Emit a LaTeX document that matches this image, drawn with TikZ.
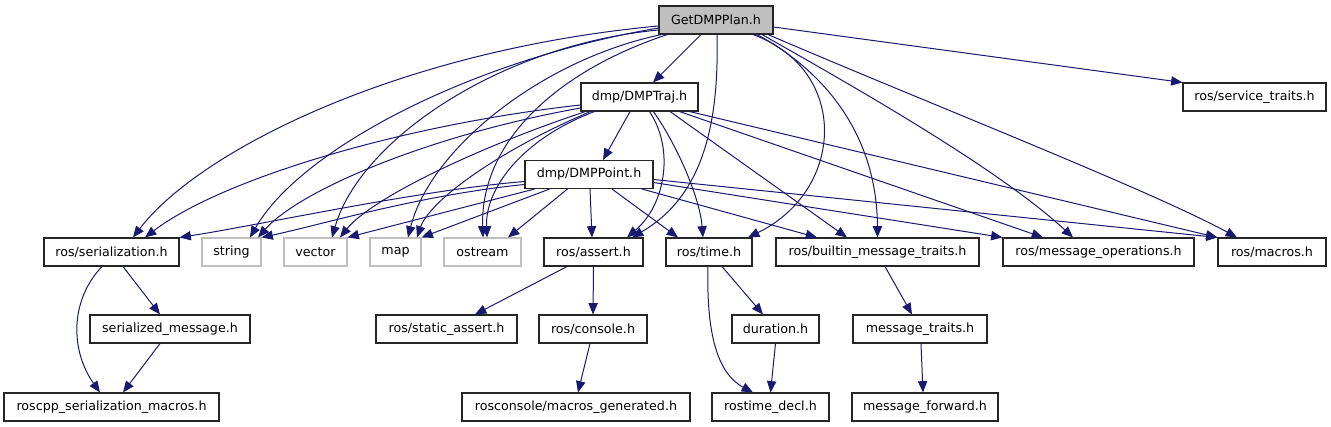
\documentclass[tikz,border=0pt]{standalone}
\usepackage{fontspec}
\setmainfont{DejaVu Sans}
\usetikzlibrary{arrows.meta,calc}
\definecolor{edgecol}{HTML}{191970}
\definecolor{extgrey}{HTML}{BFBFBF}
\definecolor{topfill}{HTML}{BFBFBF}
\begin{document}
\begin{tikzpicture}[x=0.75pt,y=-0.75pt,
  box/.style={draw=black!85,line width=0.8pt,fill=white,inner sep=0pt,minimum height=21pt,
    font=\fontsize{9.5pt}{11pt}\selectfont},
  extbox/.style={box,draw=extgrey},
  topbox/.style={box,fill=topfill},
  bw/.style={minimum width=#1*0.75pt},
  edge/.style={draw=edgecol,line width=0.75pt,-{Triangle[length=8.5pt,width=7pt]}}]
\useasboundingbox (0,0) rectangle (1331,427);
% nodes
\node[topbox,bw=114] (G) at (716,20) {GetDMPPlan.h};
\node[box,bw=117] (traj) at (639.5,97) {dmp/DMPTraj.h};
\node[box,bw=128] (point) at (589,174.5) {dmp/DMPPoint.h};
\node[box,bw=143] (svc) at (1254.5,97) {ros/service\_traits.h};
\node[box,bw=135] (ser) at (111.5,252) {ros/serialization.h};
\node[extbox,bw=59] (str) at (231.5,252) {string};
\node[extbox,bw=63] (vec) at (315.5,252) {vector};
\node[extbox,bw=51] (map) at (395.5,252) {map};
\node[extbox,bw=77] (ost) at (482.5,252) {ostream};
\node[box,bw=99] (ast) at (593.5,252) {ros/assert.h};
\node[box,bw=86] (tim) at (709,252) {ros/time.h};
\node[box,bw=203] (bmt) at (877.5,252) {ros/builtin\_message\_traits.h};
\node[box,bw=191] (mop) at (1098.5,252) {ros/message\_operations.h};
\node[box,bw=108] (mac) at (1272,252) {ros/macros.h};
\node[box,bw=160] (sm) at (170,329) {serialized\_message.h};
\node[box,bw=141] (sa) at (446.5,329) {ros/static\_assert.h};
\node[box,bw=108] (con) at (593,329) {ros/console.h};
\node[box,bw=87] (dur) at (775.5,329) {duration.h};
\node[box,bw=134] (mt) at (920,329) {message\_traits.h};
\node[box,bw=215] (rsm) at (111.5,407) {roscpp\_serialization\_macros.h};
\node[box,bw=228] (mg) at (576,407) {rosconsole/macros\_generated.h};
\node[box,bw=117] (rd) at (770.5,407) {rostime\_decl.h};
\node[box,bw=146] (mf) at (925,407) {message\_forward.h};
% edges from GetDMPPlan.h
\path[edge] ($(G.south)+(-15,0)$) -- ($(traj.north)+(13.5,0)$);
\path[edge] ($(G.east)+(0,7)$) -- (svc.north west);
\path[edge] ($(G.west)+(0,6)$) .. controls (400,50) and (200,150) .. ($(ser.north)+(21.5,0)$);
\path[edge] ($(G.west)+(0,8)$) .. controls (470,60) and (300,150) .. ($(str.north)+(18.5,0)$);
\path[edge] ($(G.west)+(0,10)$) .. controls (500,45) and (360,140) .. ($(vec.north)+(16.5,0)$);
\path[edge] ($(G.south west)+(3,0)$) .. controls (540,60) and (430,150) .. ($(map.north)+(12.5,0)$);
\path[edge] ($(G.south west)+(9,0)$) .. controls (560,70) and (480,140) .. ($(ost.north)+(0.5,0)$);
\path[edge] ($(G.south)+(1,0)$) .. controls (719,120) and (705,195) .. ($(ast.north)+(38.5,0)$);
\path[edge] ($(G.south)+(37,0)$) .. controls (850,70) and (845,190) .. ($(tim.north)+(39,0)$);
\path[edge] ($(G.south)+(41,0)$) .. controls (840,80) and (877,150) .. (bmt.north);
\path[edge] ($(G.south)+(46,0)$) .. controls (860,90) and (1000,170) .. ($(mop.north)+(-25.5,0)$);
\path[edge] ($(G.south)+(52,0)$) .. controls (920,100) and (1150,190) .. ($(mac.north)+(-35,0)$);
% edges from dmp/DMPTraj.h
\path[edge] ($(traj.south)+(-9.5,0)$) -- ($(point.north)+(14,0)$);
\path[edge] ($(traj.west)+(0,8)$) .. controls (400,125) and (220,180) .. ($(ser.north)+(33.5,0)$);
\path[edge] ($(traj.west)+(0,11)$) .. controls (430,135) and (300,190) .. ($(str.north)+(26.5,0)$);
\path[edge] ($(traj.south west)+(5,0)$) .. controls (470,150) and (370,200) .. ($(vec.north)+(24.5,0)$);
\path[edge] ($(traj.south west)+(10,0)$) .. controls (500,150) and (430,200) .. ($(map.north)+(21.5,0)$);
\path[edge] ($(traj.south west)+(14,0)$) .. controls (520,140) and (485,190) .. ($(ost.north)+(4.5,0)$);
\path[edge] ($(traj.south)+(10,0)$) .. controls (675,150) and (665,205) .. ($(ast.north)+(33.5,0)$);
\path[edge] ($(traj.south)+(14,0)$) .. controls (680,150) and (700,200) .. ($(tim.north)+(-6,0)$);
\path[edge] ($(traj.south)+(30.5,0)$) -- ($(bmt.north)+(-30.5,0)$);
\path[edge] ($(traj.south)+(40,0)$) -- ($(mop.north)+(-55.5,0)$);
\path[edge] ($(traj.south)+(50,0)$) -- (mac.north west);
% edges from dmp/DMPPoint.h
\path[edge] ($(point.west)+(0,7)$) .. controls (420,190) and (260,225) .. (ser.north east);
\path[edge] ($(point.west)+(0,10)$) .. controls (420,195) and (320,225) .. (str.north east);
\path[edge] ($(point.south west)+(10,0)$) -- (vec.north east);
\path[edge] ($(point.south west)+(25,0)$) -- (map.north east);
\path[edge] ($(point.south west)+(43,0)$) -- ($(ost.north)+(25.5,0)$);
\path[edge] ($(point.south)+(1,0)$) -- ($(ast.north)+(-1.5,0)$);
\path[edge] ($(point.south)+(23,0)$) -- ($(tim.north)+(-31,0)$);
\path[edge] ($(point.south)+(53,0)$) -- ($(bmt.north)+(-60.5,0)$);
\path[edge] ($(point.east)+(0,8)$) -- (mop.north west);
\path[edge] ($(point.east)+(0,5)$) -- (mac.north west);
% lower edges
\path[edge] ($(ser.south)+(11.5,0)$) -- ($(sm.north)+(-10,0)$);
\path[edge] ($(ser.south)+(-9.5,0)$) .. controls (70,300) and (70,350) .. ($(rsm.north)+(-11.5,0)$);
\path[edge] ($(sm.south)+(-10,0)$) -- ($(rsm.north)+(11.5,0)$);
\path[edge] ($(ast.south)+(-26.5,0)$) -- ($(sa.north)+(28.5,0)$);
\path[edge] (ast.south) -- (con.north);
\path[edge] ($(con.south)+(-3,0)$) -- ($(mg.north)+(2,0)$);
\path[edge] ($(tim.south)+(13,0)$) -- ($(dur.north)+(-12.5,0)$);
\path[edge] ($(tim.south)+(-1,0)$) .. controls (706,340) and (720,375) .. ($(rd.north)+(-17.5,0)$);
\path[edge] (dur.south) -- (rd.north);
\path[edge] ($(bmt.south)+(7.5,0)$) -- ($(mt.north)+(-8,0)$);
\path[edge] ($(mt.south)+(1,0)$) -- ($(mf.north)+(-2,0)$);
\end{tikzpicture}
\end{document}
